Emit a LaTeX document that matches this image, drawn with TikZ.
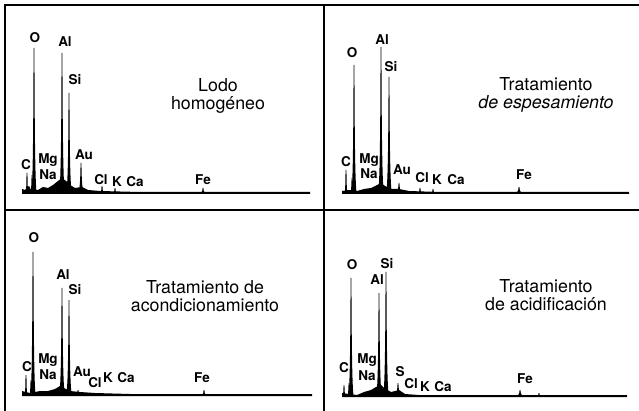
\documentclass[tikz,border=0pt]{standalone}
\usepackage{fontspec}
\setmainfont{TeX Gyre Heros}
\usetikzlibrary{positioning}

\tikzset{
  frame/.style={line width=1.2pt},
  spec/.style={fill=black},
  base/.style={line width=1.6pt},
  el/.style={font=\bfseries\fontsize{13.5}{14}\selectfont, inner sep=0pt},
  title/.style={font=\fontsize{17.8}{18.3}\selectfont, align=center, inner sep=0pt}
}

\begin{document}
\begin{tikzpicture}[x=1pt,y=-1pt]
\useasboundingbox (0,0) rectangle (639,411);
% frame
\draw[frame] (5,411) -- (5,5) -- (639,5);
\draw[frame] (324,5) -- (324,411);
\draw[frame] (5,210) -- (639,210);

% Lodo homogeneo
\begin{scope}
  \fill[spec] (22,194) -- (22,189) -- (25,190) -- (29,186) -- (31,190) -- (38,190) -- (43,187) -- (48,188) -- (53,185) -- (58,181) -- (62,178) -- (66,181) -- (70,185) -- (75,188) -- (82,187) -- (88,190) -- (100,191) -- (140,192) -- (310,192) -- (310,194) -- cycle;
  \foreach \x/\t/\w in {27/173/1.2, 32/175/1.5, 34/48/2.6, 62/53/2.8, 69/93/2.8, 81/163/3, 102/186/1.5, 115/188/1.2, 203/188/2}
    \fill[spec] (\x-\w,193) .. controls (\x-0.7,{193-0.1*(193-\t)}) and (\x-0.6,{\t+0.3*(193-\t)}) .. (\x-0.4,\t) -- (\x+0.4,\t) .. controls (\x+0.6,{\t+0.3*(193-\t)}) and (\x+0.7,{193-0.1*(193-\t)}) .. (\x+\w,193) -- cycle;
  \draw[base] (22,193) -- (310,193);
  \node[el] (O1) at (35,38) {O};
  \node[el] (Al1) at (65,42) {Al};
  \node[el] (Si1) at (75,80) {Si};
  \node[el] (C1) at (26,165) {C};
  \node[el] (Mg1) at (48,160) {Mg};
  \node[el, below=3pt of Mg1] (Na1) {Na};
  \node[el] (Au1) at (84,155) {Au};
  \node[el] (Cl1) at (101,180) {Cl};
  \node[el] (K1) at (117,182) {K};
  \node[el, right=4pt of K1] (Ca1) {Ca};
  \node[el] (Fe1) at (203,180) {Fe};
  \node[title] (t1) at (218,96) {Lodo\\homogéneo};
\end{scope}

% espesamiento
\begin{scope}[shift={(319,0)}]
  \fill[spec] (23,194) -- (23,191) -- (30,190) -- (38,191) -- (45,189) -- (52,188) -- (58,185) -- (62,183) -- (66,186) -- (72,189) -- (80,189) -- (90,191) -- (120,192) -- (310,192) -- (310,194) -- cycle;
  \foreach \x/\t/\w in {27/170/1.2, 33/178/1.5, 35/65/2.6, 62/47/2.8, 70/77/2.8, 80/183/3, 101/188/1.5, 114/189/1.2, 200/187/2.5}
    \fill[spec] (\x-\w,193) .. controls (\x-0.7,{193-0.1*(193-\t)}) and (\x-0.6,{\t+0.3*(193-\t)}) .. (\x-0.4,\t) -- (\x+0.4,\t) .. controls (\x+0.6,{\t+0.3*(193-\t)}) and (\x+0.7,{193-0.1*(193-\t)}) .. (\x+\w,193) -- cycle;
  \draw[base] (23,193) -- (310,193);
  \node[el] (O2) at (33,53) {O};
  \node[el] (Al2) at (63,40) {Al};
  \node[el] (Si2) at (72,67) {Si};
  \node[el] (C2) at (27,162) {C};
  \node[el] (Mg2) at (50,160) {Mg};
  \node[el, below=2pt of Mg2] (Na2) {Na};
  \node[el] (Au2) at (83,170) {Au};
  \node[el] (Cl2) at (103,178) {Cl};
  \node[el] (K2) at (118,180) {K};
  \node[el, right=5pt of K2] (Ca2) {Ca};
  \node[el] (Fe2) at (205,175) {Fe};
  \node[title] (t2) at (227,95) {Tratamiento\\\itshape de espesamiento};
\end{scope}

% acondicionamiento
\begin{scope}[shift={(0,205)}]
  \fill[spec] (22,191) -- (22,186) -- (30,188) -- (40,186) -- (48,186) -- (55,184) -- (60,181) -- (64,183) -- (70,186) -- (80,187) -- (95,188) -- (130,189) -- (312,189) -- (312,191) -- cycle;
  \foreach \x/\t/\w in {26/170/1.2, 31/175/1.5, 33/47/2.6, 62/83/2.8, 69/95/2.8, 78/185/2, 204/185/1.5}
    \fill[spec] (\x-\w,190) .. controls (\x-0.7,{190-0.1*(190-\t)}) and (\x-0.6,{\t+0.3*(190-\t)}) .. (\x-0.4,\t) -- (\x+0.4,\t) .. controls (\x+0.6,{\t+0.3*(190-\t)}) and (\x+0.7,{190-0.1*(190-\t)}) .. (\x+\w,190) -- cycle;
  \draw[base] (22,190) -- (312,190);
  \node[el] (O3) at (34,33) {O};
  \node[el] (Al3) at (63,70) {Al};
  \node[el] (Si3) at (75,85) {Si};
  \node[el] (C3) at (27,162) {C};
  \node[el] (Mg3) at (48,155) {Mg};
  \node[el, below=3pt of Mg3] (Na3) {Na};
  \node[el] (Au3) at (82,167) {Au};
  \node[el] (Cl3) at (95,178) {Cl};
  \node[el] (K3) at (108,173) {K};
  \node[el, right=4pt of K3] (Ca3) {Ca};
  \node[el] (Fe3) at (202,173) {Fe};
  \node[title] (t3) at (205,91) {Tratamiento de\\acondicionamiento};
\end{scope}

% acidificacion
\begin{scope}[shift={(319,205)}]
  \fill[spec] (23,192) -- (23,188) -- (30,189) -- (38,190) -- (45,187) -- (52,185) -- (57,182) -- (62,180) -- (66,184) -- (72,187) -- (80,185) -- (86,189) -- (100,190) -- (135,190) -- (308,190) -- (308,192) -- cycle;
  \foreach \x/\t/\w in {25/180/1.2, 30/178/1.5, 32/73/2.6, 60/88/2.8, 67/67/2.8, 79/178/3.5, 201/185/2.5, 220/188/1}
    \fill[spec] (\x-\w,191) .. controls (\x-0.7,{191-0.1*(191-\t)}) and (\x-0.6,{\t+0.3*(191-\t)}) .. (\x-0.4,\t) -- (\x+0.4,\t) .. controls (\x+0.6,{\t+0.3*(191-\t)}) and (\x+0.7,{191-0.1*(191-\t)}) .. (\x+\w,191) -- cycle;
  \draw[base] (23,191) -- (308,191);
  \node[el] (O4) at (33,60) {O};
  \node[el] (Al4) at (58,75) {Al};
  \node[el] (Si4) at (68,59) {Si};
  \node[el] (C4) at (25,163) {C};
  \node[el] (Mg4) at (48,155) {Mg};
  \node[el, below=4pt of Mg4] (Na4) {Na};
  \node[el] (S4) at (81,167) {S};
  \node[el] (Cl4) at (92,179) {Cl};
  \node[el] (K4) at (106,182) {K};
  \node[el, right=4pt of K4] (Ca4) {Ca};
  \node[el] (Fe4) at (206,174) {Fe};
  \node[title] (t4) at (227,90) {Tratamiento\\de acidificación};
\end{scope}
\end{tikzpicture}
\end{document}
